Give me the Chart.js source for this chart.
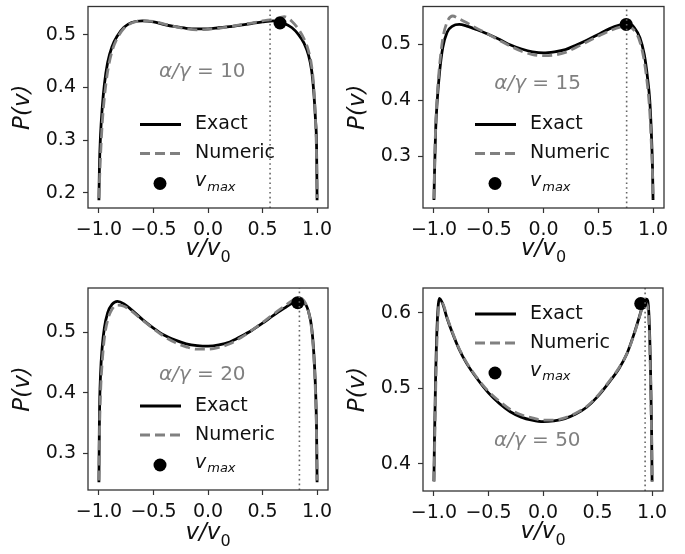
<!DOCTYPE html>
<html>
<head>
<meta charset="utf-8">
<script src="https://cdn.jsdelivr.net/npm/chart.js@4.4.1/dist/chart.umd.min.js"></script>
<style>
  html, body { margin: 0; padding: 0; background: #fff; }
  #wrap { position: relative; width: 685px; height: 554px; }
  canvas { position: absolute; }
</style>
</head>
<body>
<div id="wrap">
  <canvas id="p10" width="340" height="275" style="left:0;top:0"></canvas>
  <canvas id="p15" width="345" height="275" style="left:340px;top:0"></canvas>
  <canvas id="p20" width="340" height="279" style="left:0;top:275px"></canvas>
  <canvas id="p50" width="345" height="279" style="left:340px;top:275px"></canvas>
</div>
<script>
// velocity grid v/v0 shared by all curves
const vGrid = [-1, -0.995, -0.985, -0.97, -0.95, -0.92, -0.88, -0.83, -0.77, -0.7, -0.6, -0.5, -0.4, -0.3, -0.2, -0.1,
  0, 0.1, 0.2, 0.3, 0.4, 0.5, 0.6, 0.7, 0.77, 0.83, 0.88, 0.92, 0.95, 0.97, 0.985, 0.995, 1];

// alpha/gamma = 10
const exact10 = [0.186, 0.25, 0.31, 0.36, 0.405, 0.447, 0.477, 0.498, 0.514, 0.523, 0.526, 0.524, 0.519, 0.515, 0.512, 0.511,
  0.511, 0.513, 0.515, 0.518, 0.521, 0.524, 0.526, 0.521, 0.513, 0.500, 0.484, 0.462, 0.432, 0.39, 0.34, 0.29, 0.186];
const numeric10 = [0.19, 0.22, 0.27, 0.33, 0.38, 0.43, 0.468, 0.494, 0.512, 0.522, 0.526, 0.525, 0.52, 0.515, 0.511, 0.509,
  0.510, 0.512, 0.515, 0.519, 0.522, 0.526, 0.529, 0.534, 0.525, 0.51, 0.492, 0.47, 0.44, 0.40, 0.34, 0.27, 0.19];

// alpha/gamma = 15
const exact15 = [0.222, 0.27, 0.345, 0.40, 0.448, 0.494, 0.522, 0.533, 0.536, 0.533, 0.526, 0.518, 0.509, 0.499, 0.492, 0.487,
  0.485, 0.487, 0.491, 0.499, 0.508, 0.518, 0.528, 0.535, 0.538, 0.530, 0.512, 0.482, 0.44, 0.40, 0.34, 0.28, 0.222];
const numeric15 = [0.224, 0.28, 0.35, 0.41, 0.46, 0.51, 0.54, 0.551, 0.546, 0.539, 0.528, 0.518, 0.507, 0.497, 0.488, 0.482,
  0.48, 0.481, 0.486, 0.495, 0.505, 0.515, 0.524, 0.531, 0.532, 0.525, 0.505, 0.47, 0.425, 0.38, 0.32, 0.27, 0.224];

// alpha/gamma = 20
const exact20 = [0.252, 0.36, 0.43, 0.475, 0.507, 0.532, 0.546, 0.551, 0.547, 0.537, 0.521, 0.507, 0.495, 0.487, 0.481, 0.478,
  0.477, 0.479, 0.484, 0.493, 0.503, 0.515, 0.528, 0.540, 0.548, 0.551, 0.549, 0.535, 0.508, 0.465, 0.41, 0.34, 0.252];
const numeric20 = [0.255, 0.33, 0.40, 0.45, 0.49, 0.52, 0.538, 0.545, 0.543, 0.535, 0.52, 0.506, 0.493, 0.483, 0.476, 0.472,
  0.472, 0.475, 0.481, 0.491, 0.503, 0.516, 0.530, 0.543, 0.552, 0.557, 0.552, 0.535, 0.505, 0.46, 0.40, 0.33, 0.255];

// alpha/gamma = 50
const exact50 = [0.377, 0.43, 0.51, 0.585, 0.619, 0.612, 0.593, 0.573, 0.552, 0.533, 0.512, 0.494, 0.480, 0.469, 0.462, 0.458,
  0.456, 0.457, 0.460, 0.466, 0.475, 0.489, 0.507, 0.527, 0.546, 0.570, 0.593, 0.612, 0.618, 0.60, 0.53, 0.45, 0.377];
const numeric50 = [0.377, 0.41, 0.49, 0.57, 0.612, 0.612, 0.594, 0.574, 0.553, 0.534, 0.513, 0.496, 0.483, 0.472, 0.465, 0.461,
  0.458, 0.458, 0.461, 0.467, 0.476, 0.490, 0.508, 0.528, 0.546, 0.569, 0.592, 0.61, 0.612, 0.59, 0.52, 0.44, 0.377];

const ratios = [10, 15, 20, 50];
const vMaxV = [0.66, 0.755, 0.823, 0.896];     // marked maximum
const vMaxP = [0.522, 0.536, 0.549, 0.612];
const vLines = [0.569, 0.759, 0.838, 0.936];   // dotted vertical line
const xTicks = [-1, -0.5, 0, 0.5, 1];
const yTicks = [[0.2, 0.3, 0.4, 0.5], [0.3, 0.4, 0.5], [0.3, 0.4, 0.5], [0.4, 0.5, 0.6]];
const yLimits = [[0.1712, 0.5533], [0.2076, 0.568], [0.2393, 0.5732], [0.3643, 0.6326]];

Chart.defaults.font.family = 'DejaVu Sans';
Chart.defaults.color = '#222';

function fmt(v) {
  return (v < 0 ? '\u2212' : '') + Math.abs(v).toFixed(1);
}

// frame, legend, x title and alpha/gamma label
const extras = {
  id: 'extras',
  afterDraw(chart, args, opts) {
    const {ctx, chartArea: a, scales} = chart;
    ctx.save();
    ctx.strokeStyle = '#333';
    ctx.lineWidth = 1.3;
    ctx.strokeRect(a.left, a.top, a.right - a.left, a.bottom - a.top);

    // legend
    const lx = a.left + 52, tx = a.left + 107;
    let y = a.top + opts.legendTop;
    ctx.lineCap = 'butt';
    ctx.strokeStyle = '#000';
    ctx.lineWidth = 2.8;
    ctx.beginPath(); ctx.moveTo(lx, y); ctx.lineTo(lx + 41, y); ctx.stroke();
    ctx.fillStyle = '#111';
    ctx.textBaseline = 'middle';
    ctx.textAlign = 'left';
    ctx.font = '19px DejaVu Sans';
    ctx.fillText('Exact', tx, y);
    y += 29;
    ctx.strokeStyle = '#808080';
    ctx.setLineDash([10, 5]);
    ctx.beginPath(); ctx.moveTo(lx, y); ctx.lineTo(lx + 41, y); ctx.stroke();
    ctx.setLineDash([]);
    ctx.fillText('Numeric', tx, y);
    y += 30;
    ctx.fillStyle = '#000';
    ctx.beginPath(); ctx.arc(lx + 20, y, 6.5, 0, Math.PI * 2); ctx.fill();
    ctx.fillStyle = '#111';
    ctx.font = 'italic 19px DejaVu Sans';
    ctx.fillText('v', tx, y - 2);
    const w = ctx.measureText('v').width;
    ctx.font = 'italic 13px DejaVu Sans';
    ctx.fillText('max', tx + w + 1, y + 4);

    // x axis title v/v0
    ctx.textBaseline = 'alphabetic';
    ctx.font = 'italic 23px DejaVu Sans';
    const wv = ctx.measureText('v/v').width;
    ctx.font = '16px DejaVu Sans';
    const w0 = ctx.measureText('0').width;
    const sx = (a.left + a.right) / 2 - (wv + w0) / 2;
    const by = a.bottom + opts.titleGap;
    ctx.font = 'italic 23px DejaVu Sans';
    ctx.fillText('v/v', sx, by);
    ctx.font = '16px DejaVu Sans';
    ctx.fillText('0', sx + wv, by + 7);

    // alpha/gamma label
    ctx.textBaseline = 'middle';
    const px = scales.x.getPixelForValue(opts.labelX);
    const py = scales.y.getPixelForValue(opts.labelY);
    ctx.fillStyle = '#808080';
    ctx.font = 'italic 20px DejaVu Sans';
    ctx.fillText('\u03b1/\u03b3', px, py);
    const w2 = ctx.measureText('\u03b1/\u03b3').width;
    ctx.font = '20px DejaVu Sans';
    ctx.fillText(' = ' + opts.ratio, px + w2, py);
    ctx.restore();
  }
};

const panels = [
  {id: 'p10', exact: exact10, numeric: numeric10, area: [88, 5, 328, 208], legendTop: 118, titleGap: 47},
  {id: 'p15', exact: exact15, numeric: numeric15, area: [83, 5, 324, 208], legendTop: 118, titleGap: 47},
  {id: 'p20', exact: exact20, numeric: numeric20, area: [88, 13, 328, 215], legendTop: 118, titleGap: 49},
  {id: 'p50', exact: exact50, numeric: numeric50, area: [83, 13, 323, 216], legendTop: 26, titleGap: 47}
];

panels.forEach((p, i) => {
  const canvas = document.getElementById(p.id);
  const W = canvas.width, H = canvas.height;
  const [aL, aT, aR, aB] = p.area;
  const [yMin, yMax] = yLimits[i];
  const lh = 23 * 1.2;

  new Chart(canvas, {
    type: 'line',
    data: {
      datasets: [
        {
          label: 'Exact',
          data: vGrid.map((v, k) => ({x: v, y: p.exact[k]})),
          borderColor: '#000', borderWidth: 2.8, pointRadius: 0,
          cubicInterpolationMode: 'monotone', order: 4
        },
        {
          label: 'Numeric',
          data: vGrid.map((v, k) => ({x: v, y: p.numeric[k]})),
          borderColor: '#808080', borderWidth: 2.8, borderDash: [10, 5], pointRadius: 0,
          cubicInterpolationMode: 'monotone', order: 3
        },
        {
          label: 'vmax',
          data: [{x: vMaxV[i], y: vMaxP[i]}],
          showLine: false, pointRadius: 6.5, pointBackgroundColor: '#000', pointBorderWidth: 0, order: 2
        },
        {
          label: 'line',
          data: [{x: vLines[i], y: yMin}, {x: vLines[i], y: yMax}],
          borderColor: '#666', borderWidth: 1.6, borderDash: [1.6, 3.2], pointRadius: 0, order: 1
        }
      ]
    },
    options: {
      responsive: false,
      animation: false,
      events: [],
      layout: {padding: {left: 0, top: aT, right: W - aR, bottom: 0}},
      plugins: {
        legend: {display: false},
        tooltip: {enabled: false},
        extras: {legendTop: p.legendTop, titleGap: p.titleGap, labelX: -0.45, labelY: 0.43, ratio: ratios[i]}
      },
      scales: {
        x: {
          type: 'linear', min: -1.1, max: 1.1,
          afterFit: s => { s.height = H - aB; s.paddingLeft = 0; s.paddingRight = 0; },
          afterBuildTicks: s => { s.ticks = xTicks.map(v => ({value: v})); },
          grid: {drawOnChartArea: false, tickLength: 5, tickColor: '#333', tickWidth: 1.2},
          border: {display: false},
          ticks: {callback: fmt, font: {size: 19}, padding: 6, maxRotation: 0, color: '#111'}
        },
        y: {
          type: 'linear', min: yMin, max: yMax,
          afterFit: s => { s.width = aL; s.paddingTop = 0; s.paddingBottom = 0; },
          afterBuildTicks: s => { s.ticks = yTicks[i].map(v => ({value: v})); },
          grid: {drawOnChartArea: false, tickLength: 5, tickColor: '#333', tickWidth: 1.2},
          border: {display: false},
          ticks: {callback: fmt, font: {size: 19}, padding: 7, color: '#111'},
          title: {display: true, text: 'P(v)', font: {size: 23, style: 'italic'}, color: '#111',
                  padding: {top: aL - 65 - lh / 2, bottom: 0}}
        }
      }
    },
    plugins: [extras]
  });
});
</script>
</body>
</html>
